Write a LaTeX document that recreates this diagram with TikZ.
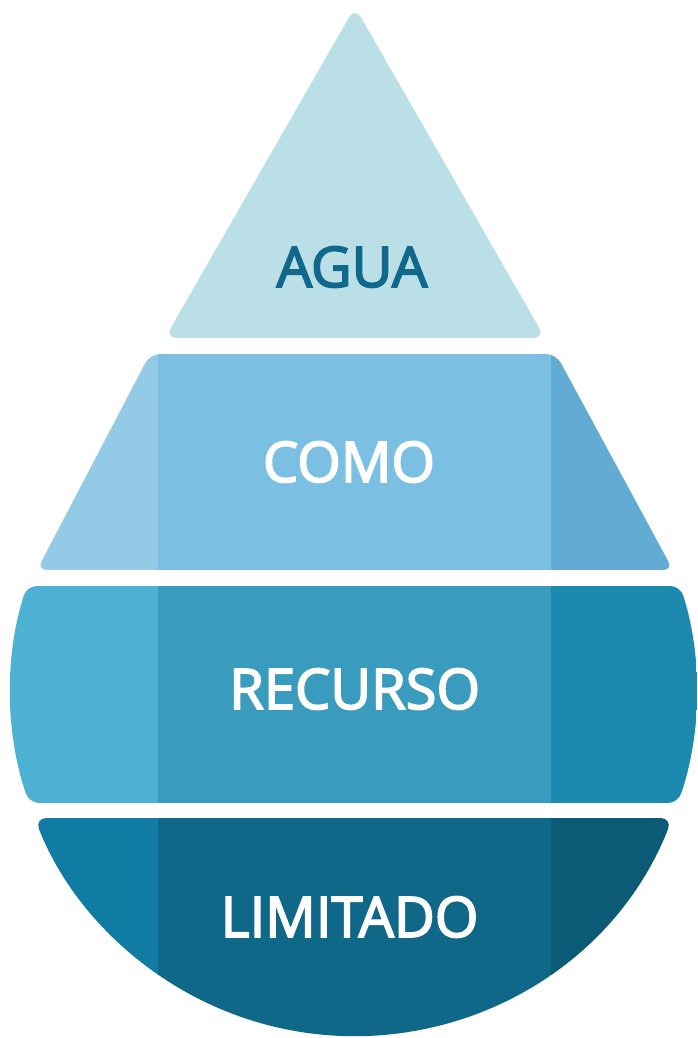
\documentclass[tikz,border=0pt]{standalone}
\usepackage{fontspec}
\setmainfont{Open Sans}[FakeBold=3]
\usepackage{xcolor}
\usepackage{tikz}
\usetikzlibrary{calc}
\definecolor{aguafill}{HTML}{BADFE7}
\definecolor{aguatext}{HTML}{10698A}
\definecolor{comoleft}{HTML}{93CAE6}
\definecolor{comomid}{HTML}{7BBFE3}
\definecolor{comoright}{HTML}{62ABD2}
\definecolor{recleft}{HTML}{4DB1D3}
\definecolor{recmid}{HTML}{399BBD}
\definecolor{recright}{HTML}{1E89AE}
\definecolor{limleft}{HTML}{117CA3}
\definecolor{limmid}{HTML}{0F6888}
\definecolor{limright}{HTML}{0B5A76}
\tikzset{
  layertext/.style={font=\fontsize{28}{30}\selectfont,text=white,inner sep=0pt,anchor=center},
  droparc/.style={x radius=343,y radius=345}
}

\begin{document}
\begin{tikzpicture}[x=0.5pt,y=0.5pt]
  \useasboundingbox (0,0) rectangle (697,1038);
  % top triangle
  \fill[aguafill,rounded corners=6pt] (355,1031) -- (545,700) -- (165,700) -- cycle;
  % trapezoid
  \begin{scope}
    \clip[rounded corners=5pt] (150,684) -- (556,684) -- (673,468) -- (37,468) -- cycle;
    \fill[comoleft] (0,468) rectangle (158,684);
    \fill[comomid] (158,468) rectangle (551,684);
    \fill[comoright] (551,468) rectangle (697,684);
  \end{scope}
  % middle band
  \begin{scope}
    \clip[rounded corners=5pt] (353.5,452) -- (680.2,452) arc[start angle=17.72,end angle=-18.94,droparc]
      -- (29.1,235) arc[start angle=198.94,end angle=162.28,droparc] -- cycle;
    \fill[recleft] (0,235) rectangle (158,452);
    \fill[recmid] (158,235) rectangle (551,452);
    \fill[recright] (551,235) rectangle (697,452);
  \end{scope}
  % bottom cap
  \begin{scope}
    \clip[rounded corners=6pt] (353.5,220) -- (672.4,220) arc[start angle=-21.6,end angle=-158.4,droparc] -- cycle;
    \fill[limleft] (0,0) rectangle (158,220);
    \fill[limmid] (158,0) rectangle (551,220);
    \fill[limright] (551,0) rectangle (697,220);
  \end{scope}
  \node[layertext,text=aguatext] (agua) at (352,771) {AGUA};
  \node[layertext] (como) at (349,576) {COMO};
  \node[layertext] (recurso) at (354.7,349) {RECURSO};
  \node[layertext] (limitado) at (349.5,121) {LIMITADO};
\end{tikzpicture}
\end{document}
